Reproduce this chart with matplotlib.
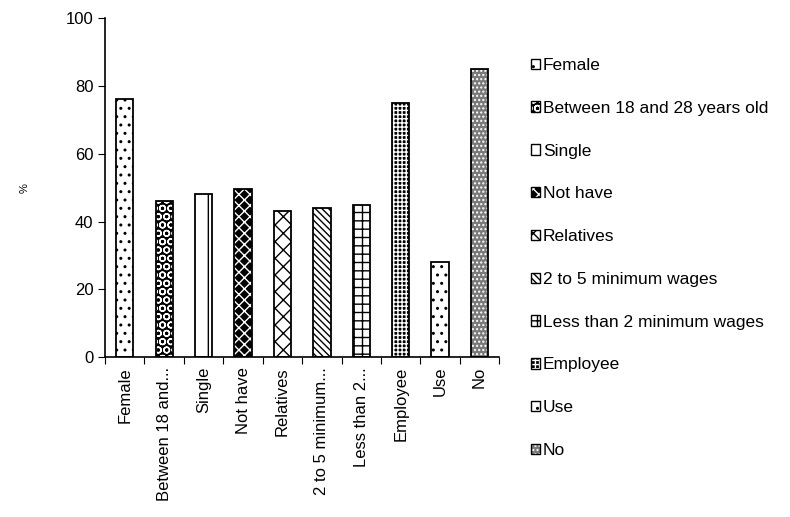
import matplotlib
matplotlib.use("Agg")
import matplotlib.pyplot as plt
import numpy as np
from matplotlib.patches import Patch

plt.rcParams['font.family'] = ['Liberation Sans', 'DejaVu Sans']
plt.rcParams['hatch.linewidth'] = 1.0

# categorias y porcentajes
categories = ["Female", "Between 18 and 28 years old", "Single", "Not have",
              "Relatives", "2 to 5 minimum wages", "Less than 2 minimum wages",
              "Employee", "Use", "No"]
tick_labels = ["Female", "Between 18 and...", "Single", "Not have", "Relatives",
               "2 to 5 minimum...", "Less than 2...", "Employee", "Use", "No"]
values = [76, 46, 48, 49.5, 43, 44, 45, 75, 28, 85]

# relleno de cada barra: trama, color de fondo, color de la trama
hatches = ['..', 'OO', '|', 'xxx', 'xx', '\\\\\\\\\\', '++', '++++', '..', '....']
faces = ['white', 'black', 'white', 'black', 'white', 'white', 'white',
         'black', 'white', '#7a7a7a']
hcols = ['black', 'white', 'black', 'white', 'black', 'black', 'black',
         'white', 'black', 'white']

fig = plt.figure(figsize=(7.9, 5.17), dpi=100)
ax = fig.add_axes([0.133, 0.309, 0.499, 0.656])

x = np.arange(len(values))
for i in range(len(values)):
    ax.bar(x[i], values[i], width=0.44, color=faces[i], edgecolor=hcols[i],
           hatch=hatches[i], linewidth=0)
    ax.bar(x[i], values[i], width=0.44, fill=False, edgecolor='black',
           linewidth=1.3)

ax.set_xlim(-0.5, len(values) - 0.5)
ax.set_ylim(0, 100)
ax.set_yticks(np.arange(0, 101, 20))
ax.set_ylabel('%', fontsize=8, labelpad=26)

# marcas entre categorias, etiquetas centradas
ax.set_xticks(np.arange(-0.5, len(values), 1.0))
ax.set_xticklabels([])
ax.set_xticks(x, minor=True)
ax.set_xticklabels(tick_labels, minor=True, rotation=90, fontsize=12)
ax.tick_params(axis='x', which='minor', length=0, pad=7)
ax.tick_params(axis='x', which='major', length=5, direction='out')
ax.tick_params(axis='y', labelsize=12, length=5)

for s in ['top', 'right']:
    ax.spines[s].set_visible(False)
ax.spines['left'].set_linewidth(1.2)
ax.spines['bottom'].set_linewidth(1.2)

# cada entrada de la leyenda: trama con su color y borde negro encima
handles = []
for i in range(len(values)):
    fondo = Patch(facecolor=faces[i], edgecolor=hcols[i], hatch=hatches[i],
                  linewidth=0)
    borde = Patch(facecolor='none', edgecolor='black', linewidth=1.0)
    handles.append((fondo, borde))
fig.legend(handles, categories, loc='upper left', bbox_to_anchor=(0.652, 0.918),
           frameon=False, fontsize=12.5, handlelength=0.55, handleheight=0.55,
           handletextpad=0.15, labelspacing=1.6)

fig.savefig('out.png', dpi=100)
